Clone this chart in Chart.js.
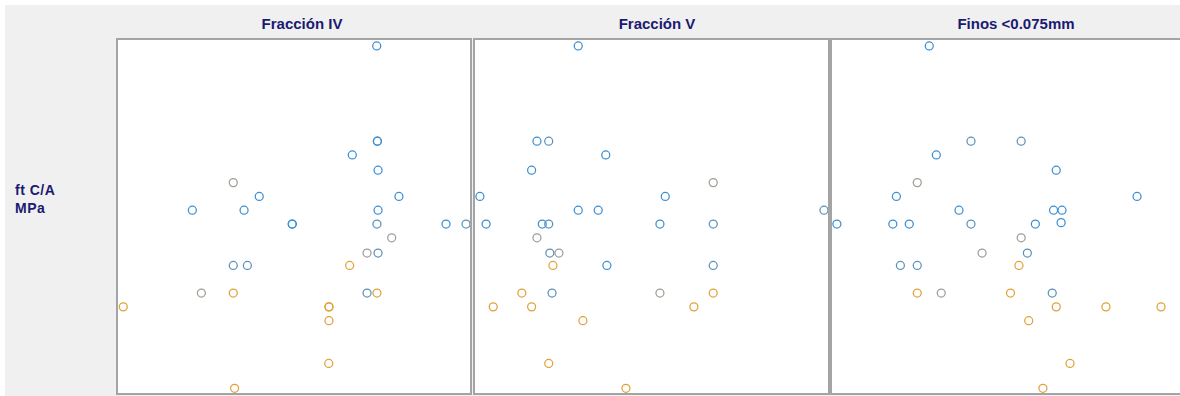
<!DOCTYPE html>
<html lang="es">
<head>
<meta charset="utf-8">
<title>ft C/A vs granulometría</title>
<script src="https://cdn.jsdelivr.net/npm/chart.js@4/dist/chart.umd.min.js"></script>
<style>
  html, body { margin: 0; padding: 0; background: #fff; overflow: hidden; }
  #frame {
    position: absolute; left: 5px; top: 5px; width: 1175px; height: 391px;
    background: #f0f0f0;
    font-family: "Liberation Sans", Arial, sans-serif;
  }
  .title {
    position: absolute; top: 11px; width: 240px; margin-left: -120px;
    text-align: center; font-size: 15px; font-weight: bold; line-height: 16px;
    color: #1b1a72; white-space: nowrap;
  }
  #ylabel {
    position: absolute; left: 10px; top: 176px;
    font-size: 14px; font-weight: bold; line-height: 18px;
    letter-spacing: 0.5px; color: #1b1a72;
  }
  .panel {
    position: absolute; top: 33px; height: 357px;
    box-sizing: border-box; border: 2px solid #a4a4a4; background: #fff;
  }
  .panel canvas { display: block; }
  #p1 { left: 111px; width: 356px; }
  #p2 { left: 468px; width: 357px; }
  #p3 { left: 825px; width: 357px; }
</style>
</head>
<body>
<div id="frame">
  <div class="title" style="left:297px">Fracción IV</div>
  <div class="title" style="left:652px">Fracción V</div>
  <div class="title" style="left:1011px">Finos &lt;0.075mm</div>
  <div id="ylabel">ft C/A<br>MPa</div>
  <div class="panel" id="p1"><canvas id="c1" width="352" height="353"></canvas></div>
  <div class="panel" id="p2"><canvas id="c2" width="353" height="353"></canvas></div>
  <div class="panel" id="p3"><canvas id="c3" width="353" height="353"></canvas></div>
</div>
<script>
'use strict';

// ── Data ─────────────────────────────────────────────────────────────────────

// group index: 0 azul, 1 azul grisáceo, 2 gris, 3 naranja
const groupNames = ['G1', 'G2', 'G3', 'G4'];
const groupColors = ['#3b8fd4', '#5b93b8', '#a19d95', '#e0a239'];

// Fracción IV (%)
const fracIVx = [21.76, 21.79, 21.79, 20.65, 21.82, 15.24, 16.42, 22.77, 13.38, 15.73,
  21.82, 17.92, 17.92, 21.77, 24.91, 25.82, 22.44, 21.32, 21.82, 15.24,
  15.88, 20.53, 13.79, 15.24, 21.32, 21.77, 10.24, 19.59, 19.59, 19.59,
  19.58, 15.30];
const fracIVft = [4.60, 3.91, 3.91, 3.81, 3.70, 3.61, 3.51, 3.51, 3.41, 3.41,
  3.41, 3.31, 3.31, 3.31, 3.31, 3.31, 3.21, 3.10, 3.10, 3.01,
  3.01, 3.01, 2.81, 2.81, 2.81, 2.81, 2.71, 2.71, 2.71, 2.61,
  2.30, 2.12];
const fracIVgrp = [0, 0, 1, 0, 0, 2, 0, 0, 0, 0,
  0, 0, 0, 1, 0, 1, 2, 2, 1, 1,
  1, 3, 2, 3, 1, 3, 3, 3, 3, 3,
  3, 3];

// Fracción V (%)
const fracVx = [8.70, 6.84, 7.37, 9.94, 6.60, 14.78, 4.27, 12.62, 8.70, 9.60,
  19.77, 4.55, 7.08, 7.37, 12.38, 14.78, 6.84, 7.42, 7.83, 7.56,
  9.99, 14.78, 6.16, 7.52, 12.38, 14.78, 4.87, 6.60, 13.91, 8.91,
  7.37, 10.85];
const fracVft = [4.60, 3.91, 3.91, 3.81, 3.70, 3.61, 3.51, 3.51, 3.41, 3.41,
  3.41, 3.31, 3.31, 3.31, 3.31, 3.31, 3.21, 3.10, 3.10, 3.01,
  3.01, 3.01, 2.81, 2.81, 2.81, 2.81, 2.71, 2.71, 2.71, 2.61,
  2.30, 2.12];
const fracVgrp = [0, 0, 1, 0, 0, 2, 0, 0, 0, 0,
  1, 0, 0, 1, 0, 1, 2, 1, 2, 3,
  0, 1, 3, 1, 2, 3, 3, 3, 3, 3,
  3, 3];

// Finos <0.075mm (%)
const finosX = [4.19, 5.13, 6.26, 4.35, 7.05, 3.92, 3.45, 8.87, 4.86, 6.99,
  7.18, 2.11, 3.37, 3.74, 5.13, 6.58, 7.16, 6.26, 5.38, 6.40,
  3.54, 3.92, 6.21, 3.92, 4.46, 6.02, 6.96, 7.05, 8.17, 9.41,
  6.43, 7.36, 6.75];
const finosFt = [4.60, 3.91, 3.91, 3.81, 3.70, 3.61, 3.51, 3.51, 3.41, 3.41,
  3.41, 3.31, 3.31, 3.31, 3.31, 3.31, 3.32, 3.21, 3.10, 3.10,
  3.01, 3.01, 3.01, 2.81, 2.81, 2.81, 2.81, 2.71, 2.71, 2.71,
  2.61, 2.30, 2.12];
const finosGrp = [0, 1, 1, 0, 0, 2, 0, 0, 0, 0,
  0, 0, 0, 0, 1, 0, 0, 2, 2, 1,
  1, 1, 3, 3, 2, 3, 1, 3, 3, 3,
  3, 3, 3];

// axis ranges (no ticks are drawn)
const ftRange = { min: 2.086, max: 4.643 };
const fracIVRange = { min: 10, max: 26 };
const fracVRange = { min: 4.05, max: 19.95 };
const finosRange = { min: 2, max: 9.95 };

// ── Chart ────────────────────────────────────────────────────────────────────

function buildDatasets(xs, ys, grp) {
  return groupNames.map((name, g) => ({
    label: name,
    data: xs.map((x, i) => ({ x, y: ys[i], g: grp[i] }))
            .filter(p => p.g === g)
            .map(p => ({ x: p.x, y: p.y })),
    showLine: false,
    pointStyle: 'circle',
    pointRadius: 4,
    pointBorderWidth: 1.25,
    pointBorderColor: groupColors[g],
    pointBackgroundColor: 'rgba(0,0,0,0)',
    clip: false
  }));
}

function drawPanel(canvasId, xs, ys, grp, xRange) {
  const ctx = document.getElementById(canvasId).getContext('2d');
  return new Chart(ctx, {
    type: 'scatter',
    data: { datasets: buildDatasets(xs, ys, grp) },
    options: {
      responsive: false,
      animation: false,
      devicePixelRatio: 1,
      layout: { padding: 0, autoPadding: false },
      events: [],
      plugins: { legend: { display: false }, tooltip: { enabled: false } },
      scales: {
        x: { type: 'linear', display: false, min: xRange.min, max: xRange.max },
        y: { type: 'linear', display: false, min: ftRange.min, max: ftRange.max }
      }
    }
  });
}

drawPanel('c1', fracIVx, fracIVft, fracIVgrp, fracIVRange);
drawPanel('c2', fracVx, fracVft, fracVgrp, fracVRange);
drawPanel('c3', finosX, finosFt, finosGrp, finosRange);
</script>
</body>
</html>
